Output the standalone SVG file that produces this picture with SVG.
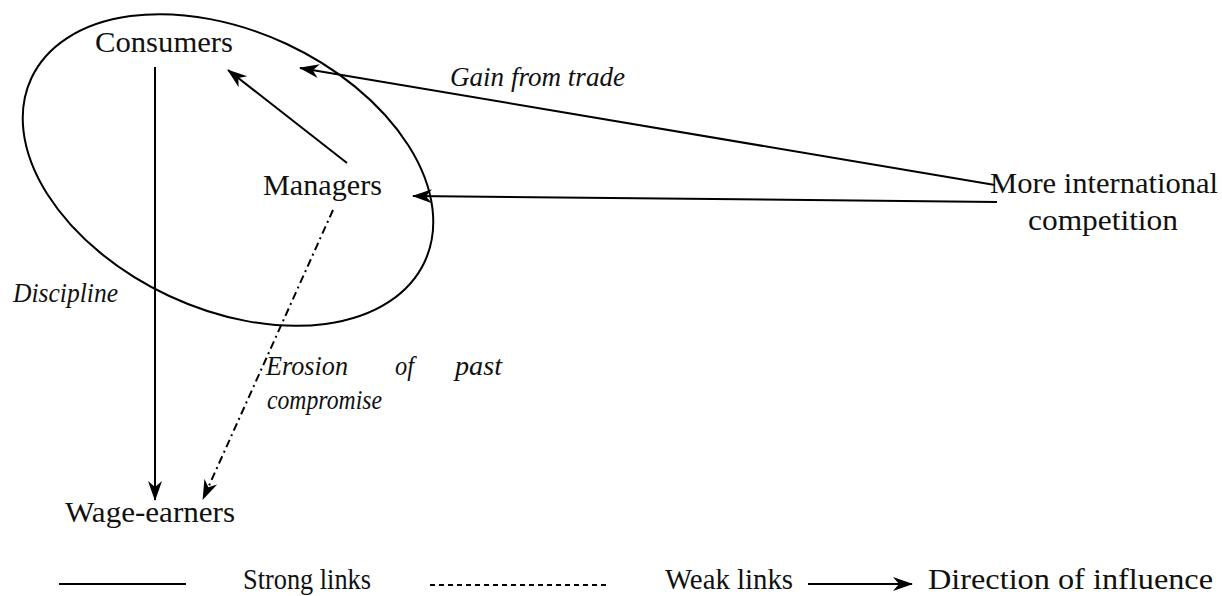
<svg xmlns="http://www.w3.org/2000/svg" width="1222" height="596" viewBox="0 0 1222 596">
<style>
.lbl{font-size:30px;fill:#111}
.it{font-size:28px;font-style:italic;fill:#111}
.ln{stroke:#000;stroke-width:2;fill:none}
.dd{stroke-dasharray:8 4 2 4}
.dash{stroke-dasharray:5 4}
</style>
<defs>
<marker id="arr" markerUnits="userSpaceOnUse" markerWidth="22" markerHeight="16" viewBox="0 -8 20 16" refX="19" refY="0" orient="auto">
<path d="M0,-7 L20,0 L0,7 L6,0 Z" fill="#000"/>
</marker>
</defs>
<g id="boundary">
<ellipse cx="228" cy="170" rx="217" ry="139" transform="rotate(25 228 170)" class="ln"/>
</g>
<g id="connectors">
<line x1="155" y1="67" x2="155" y2="500" class="ln" marker-end="url(#arr)"/>
<line x1="347" y1="163" x2="228" y2="70" class="ln" marker-end="url(#arr)"/>
<line x1="995" y1="185" x2="300" y2="68" class="ln" marker-end="url(#arr)"/>
<line x1="997" y1="202" x2="413" y2="196" class="ln" marker-end="url(#arr)"/>
<line x1="333" y1="210" x2="203" y2="499" class="ln dd" marker-end="url(#arr)"/>
</g>
<g font-family="Liberation Serif, serif">
<g id="consumers"><text class="lbl" x="95" y="52" textLength="138" lengthAdjust="spacingAndGlyphs">Consumers</text></g>
<g id="managers"><text class="lbl" x="263" y="195" textLength="119" lengthAdjust="spacingAndGlyphs">Managers</text></g>
<g id="competition">
<text class="lbl" x="990" y="193" textLength="228" lengthAdjust="spacingAndGlyphs">More international</text>
<text class="lbl" x="1028" y="230" textLength="150" lengthAdjust="spacingAndGlyphs">competition</text>
</g>
<g id="wage-earners"><text class="lbl" x="65" y="522" textLength="170" lengthAdjust="spacingAndGlyphs">Wage-earners</text></g>
<g id="labels">
<text class="it" x="450" y="86" textLength="175" lengthAdjust="spacingAndGlyphs">Gain from trade</text>
<text class="it" x="13" y="302" textLength="105" lengthAdjust="spacingAndGlyphs">Discipline</text>
<text class="it" x="266" y="375" textLength="82" lengthAdjust="spacingAndGlyphs">Erosion</text>
<text class="it" x="395" y="375" textLength="19" lengthAdjust="spacingAndGlyphs">of</text>
<text class="it" x="455" y="375" textLength="47" lengthAdjust="spacingAndGlyphs">past</text>
<text class="it" x="267" y="409" textLength="115" lengthAdjust="spacingAndGlyphs">compromise</text>
</g>
<g id="legend">
<line x1="59" y1="584" x2="186" y2="584" class="ln"/>
<text class="lbl" x="243" y="589" textLength="128" lengthAdjust="spacingAndGlyphs">Strong links</text>
<line x1="430" y1="585" x2="607" y2="585" class="ln dash"/>
<text class="lbl" x="665" y="589" textLength="128" lengthAdjust="spacingAndGlyphs">Weak links</text>
<line x1="808" y1="584" x2="912" y2="584" class="ln" marker-end="url(#arr)"/>
<text class="lbl" x="928" y="589" textLength="285" lengthAdjust="spacingAndGlyphs">Direction of influence</text>
</g>
</g>
</svg>
